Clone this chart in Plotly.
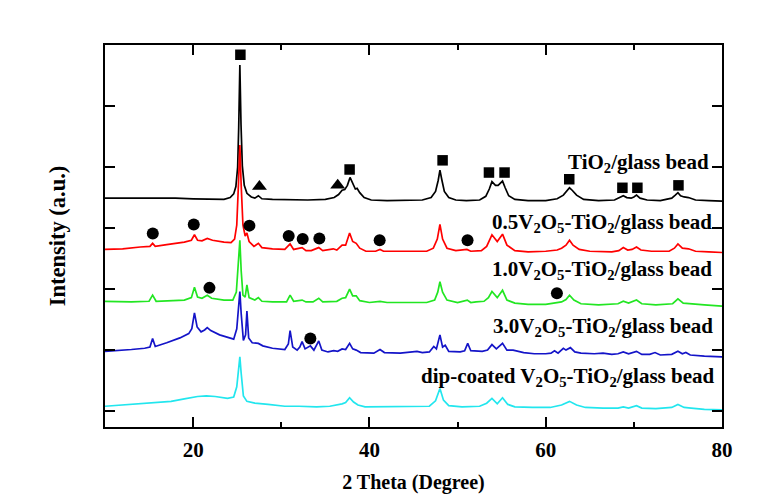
import plotly.graph_objects as go

# ---- data: (2theta, intensity offset units) ----
tio2 = [(10, 3.49), (12, 3.49), (14, 3.50), (16, 3.50), (18, 3.49), (20, 3.48), (22, 3.47),
        (23.5, 3.47), (24.2, 3.50), (24.6, 3.56), (24.85, 3.68), (25.05, 4.0), (25.17, 4.65),
        (25.3, 5.67), (25.43, 4.7), (25.58, 4.02), (25.8, 3.70), (26.1, 3.57), (26.6, 3.51),
        (27.0, 3.49), (27.4, 3.53), (27.8, 3.48), (29, 3.47), (31, 3.46), (33, 3.46), (35, 3.47),
        (36.0, 3.50), (36.5, 3.55), (36.9, 3.62), (37.2, 3.63), (37.5, 3.70), (37.8, 3.83),
        (38.1, 3.72), (38.4, 3.64), (38.6, 3.65), (38.9, 3.58), (39.4, 3.50), (40.2, 3.46),
        (42, 3.45), (44, 3.45), (46, 3.46), (47.0, 3.50), (47.5, 3.60), (47.8, 3.78),
        (48.0, 3.95), (48.2, 3.80), (48.5, 3.60), (49.0, 3.50), (49.8, 3.46), (51, 3.45),
        (52.5, 3.46), (53.2, 3.52), (53.6, 3.64), (53.9, 3.76), (54.3, 3.70), (54.6, 3.70),
        (54.9, 3.74), (55.1, 3.77), (55.4, 3.66), (55.8, 3.53), (56.5, 3.47), (58, 3.45),
        (60, 3.45), (61.3, 3.48), (62.0, 3.54), (62.4, 3.61), (62.7, 3.66), (63.0, 3.62),
        (63.5, 3.54), (64.3, 3.47), (66, 3.45), (67.8, 3.46), (68.5, 3.50), (68.8, 3.53),
        (69.2, 3.50), (69.7, 3.49), (70.0, 3.51), (70.3, 3.54), (70.7, 3.49), (71.5, 3.46),
        (73, 3.45), (74.3, 3.49), (74.7, 3.54), (75.0, 3.58), (75.3, 3.53), (75.7, 3.51),
        (76.2, 3.50), (77, 3.46), (78.5, 3.45), (80, 3.44)]

v05 = [(10, 2.65), (12, 2.66), (14, 2.69), (15.1, 2.70), (15.4, 2.75), (15.7, 2.70), (17, 2.73),
       (19.0, 2.77), (19.8, 2.80), (20.15, 2.89), (20.5, 2.80), (21.0, 2.79), (21.6, 2.83),
       (22.2, 2.80), (23.5, 2.77), (24.3, 2.76), (24.7, 2.82), (24.95, 3.05), (25.15, 3.75),
       (25.3, 4.36), (25.45, 3.7), (25.65, 3.05), (25.9, 2.87), (26.1, 2.92), (26.35, 2.78),
       (26.9, 2.70), (27.4, 2.75), (27.8, 2.68), (29, 2.66), (30.4, 2.65), (31.0, 2.74),
       (31.4, 2.65), (32.36, 2.68), (32.8, 2.63), (33.4, 2.63), (34.25, 2.68), (34.7, 2.63),
       (35.9, 2.66), (36.3, 2.64), (36.9, 2.72), (37.3, 2.72), (37.75, 2.92), (38.1, 2.78),
       (38.5, 2.75), (38.9, 2.67), (39.6, 2.62), (40.7, 2.62), (41.2, 2.65), (41.6, 2.62),
       (43.5, 2.62), (45.4, 2.63), (46.5, 2.62), (47.25, 2.67), (47.7, 2.82), (48.0, 3.06),
       (48.3, 2.82), (48.8, 2.67), (49.8, 2.63), (51.06, 2.65), (51.5, 2.62), (52.7, 2.63),
       (53.3, 2.70), (53.9, 2.89), (54.5, 2.78), (55.1, 2.90), (55.6, 2.72), (56.5, 2.63),
       (58, 2.61), (60, 2.62), (61.3, 2.64), (61.8, 2.67), (62.3, 2.72), (62.7, 2.80),
       (63.1, 2.72), (63.8, 2.65), (65, 2.62), (67.5, 2.61), (68.3, 2.63), (68.8, 2.68),
       (69.3, 2.64), (69.8, 2.65), (70.3, 2.69), (70.8, 2.64), (72, 2.62), (74, 2.62),
       (74.6, 2.67), (75.0, 2.74), (75.5, 2.67), (76.2, 2.66), (77, 2.62), (78.5, 2.61), (80, 2.60)]

v10 = [(10, 1.80), (13, 1.79), (15.0, 1.80), (15.4, 1.90), (15.8, 1.80), (17, 1.81), (19, 1.82),
       (19.8, 1.86), (20.15, 2.03), (20.5, 1.87), (21.0, 1.85), (21.6, 1.90), (22.1, 1.85),
       (23.5, 1.82), (24.5, 1.82), (24.9, 1.95), (25.1, 2.35), (25.3, 2.80), (25.45, 2.3),
       (25.65, 1.90), (25.9, 1.87), (26.1, 2.07), (26.35, 1.86), (27.0, 1.82), (27.4, 1.86),
       (27.8, 1.80), (29, 1.79), (30.6, 1.79), (31.0, 1.90), (31.4, 1.80), (32.36, 1.82),
       (32.8, 1.79), (33.6, 1.79), (34.25, 1.85), (34.7, 1.79), (35.9, 1.80), (36.3, 1.80),
       (36.9, 1.85), (37.3, 1.86), (37.75, 2.00), (38.1, 1.89), (38.5, 1.89), (38.9, 1.81),
       (40, 1.78), (41.2, 1.80), (42, 1.78), (44, 1.78), (45.4, 1.79), (46.5, 1.78),
       (47.4, 1.82), (47.75, 1.95), (48.0, 2.12), (48.3, 1.95), (48.8, 1.82), (50, 1.78),
       (51.1, 1.82), (51.5, 1.78), (52.1, 1.79), (53.0, 1.80), (53.5, 1.86), (53.9, 1.96),
       (54.5, 1.86), (55.1, 1.98), (55.6, 1.82), (56.5, 1.77), (58, 1.75), (60, 1.75),
       (61.8, 1.79), (62.3, 1.83), (62.7, 1.90), (63.2, 1.82), (64, 1.76), (66, 1.74),
       (68.2, 1.76), (68.8, 1.80), (69.4, 1.77), (70.3, 1.82), (70.9, 1.76), (72.5, 1.74),
       (74.4, 1.76), (75.0, 1.84), (75.6, 1.77), (76.3, 1.76), (78, 1.74), (80, 1.72)]

v30 = [(10, 0.98), (11.5, 0.99), (13, 1.01), (14.5, 1.03), (15.1, 1.05), (15.4, 1.19), (15.7, 1.06),
       (17, 1.12), (18.5, 1.20), (19.5, 1.27), (19.85, 1.35), (20.15, 1.61), (20.45, 1.38),
       (20.9, 1.30), (21.3, 1.33), (21.6, 1.37), (22.0, 1.32), (23, 1.25), (24.0, 1.20),
       (24.6, 1.18), (24.95, 1.35), (25.15, 1.70), (25.3, 1.96), (25.45, 1.60), (25.7, 1.16),
       (25.95, 1.25), (26.1, 1.64), (26.3, 1.20), (26.7, 1.12), (27.4, 1.11), (27.9, 1.07),
       (29, 1.03), (30.4, 1.01), (30.8, 1.10), (31.0, 1.32), (31.3, 1.05), (31.8, 1.00),
       (32.1, 1.05), (32.36, 1.14), (32.7, 1.02), (33.3, 1.07), (33.7, 1.00), (34.25, 1.15),
       (34.6, 1.00), (35.3, 0.97), (35.95, 0.99), (36.4, 0.98), (36.9, 1.02), (37.3, 1.01),
       (37.75, 1.11), (38.1, 1.02), (38.5, 1.00), (39, 0.96), (40.5, 0.95), (41.2, 1.01),
       (41.7, 0.96), (43.5, 0.95), (45.4, 0.98), (46, 0.96), (46.8, 0.97), (47.3, 1.06),
       (47.6, 1.02), (48.0, 1.25), (48.3, 1.05), (48.6, 1.08), (49.0, 0.98), (50.3, 0.97),
       (50.8, 0.99), (51.15, 1.11), (51.5, 0.99), (52.2, 0.98), (52.8, 0.98), (53.4, 1.00),
       (53.9, 1.09), (54.4, 1.02), (55.1, 1.11), (55.6, 1.00), (56.3, 1.00), (57.5, 0.96),
       (58.7, 0.94), (60, 0.94), (60.6, 0.95), (61.0, 0.99), (61.4, 0.95), (62.0, 1.03),
       (62.3, 1.00), (62.8, 1.04), (63.3, 0.97), (64, 0.95), (65.5, 0.94), (66.5, 0.95),
       (67.5, 0.93), (68.2, 0.94), (68.8, 0.97), (69.4, 0.94), (70.3, 0.98), (70.9, 0.93),
       (71.8, 0.93), (72.4, 0.96), (73.0, 0.92), (74.3, 0.93), (75.0, 0.98), (75.5, 0.94),
       (75.9, 0.96), (76.4, 0.92), (78, 0.90), (80, 0.89)]

dip = [(10, 0.08), (12, 0.10), (14, 0.12), (16, 0.14), (17.5, 0.16), (19, 0.20), (20.5, 0.24),
       (21.5, 0.25), (22.5, 0.24), (23.9, 0.21), (24.6, 0.23), (24.95, 0.40), (25.15, 0.70),
       (25.3, 0.89), (25.45, 0.62), (25.7, 0.25), (26.1, 0.16), (27, 0.13), (28.5, 0.11),
       (30.4, 0.08), (32, 0.08), (34, 0.07), (35.5, 0.08), (36.4, 0.10), (36.9, 0.12),
       (37.3, 0.14), (37.75, 0.22), (38.2, 0.15), (38.7, 0.10), (39.5, 0.07), (42, 0.07),
       (45, 0.07), (46.8, 0.08), (47.5, 0.17), (48.0, 0.37), (48.4, 0.18), (49.0, 0.09),
       (50.5, 0.07), (52.5, 0.08), (53.3, 0.13), (53.9, 0.21), (54.5, 0.12), (55.1, 0.22),
       (55.7, 0.11), (56.5, 0.07), (58.5, 0.06), (60.5, 0.06), (61.8, 0.10), (62.7, 0.16),
       (63.5, 0.10), (64.5, 0.06), (66.5, 0.05), (68.2, 0.05), (68.8, 0.07), (69.4, 0.05),
       (70.3, 0.09), (70.9, 0.05), (72.5, 0.04), (74.3, 0.06), (75.0, 0.11), (75.7, 0.06),
       (76.5, 0.05), (78, 0.03), (80, 0.02)]

# phase markers
square_x = [25.36, 37.75, 48.3, 53.56, 55.33, 62.67, 68.7, 70.4, 75.06]
square_y = [5.84, 3.96, 4.11, 3.91, 3.91, 3.80, 3.66, 3.66, 3.70]
triangle_x = [27.52, 36.4]
triangle_y = [3.68, 3.70]
circle_x = [15.42, 20.07, 26.38, 30.84, 32.43, 34.32, 41.16, 51.13, 21.85, 61.27, 33.3]
circle_y = [2.91, 3.06, 3.04, 2.87, 2.82, 2.83, 2.80, 2.80, 2.02, 1.93, 1.19]

labels = ["TiO<sub>2</sub>/glass bead",
          "0.5V<sub>2</sub>O<sub>5</sub>-TiO<sub>2</sub>/glass bead",
          "1.0V<sub>2</sub>O<sub>5</sub>-TiO<sub>2</sub>/glass bead",
          "3.0V<sub>2</sub>O<sub>5</sub>-TiO<sub>2</sub>/glass bead",
          "dip-coated V<sub>2</sub>O<sub>5</sub>-TiO<sub>2</sub>/glass bead"]
label_x = [78.7, 79.1, 79.1, 79.25, 79.35]
label_y = [4.07, 3.08, 2.31, 1.38, 0.56]

x_ticks = [20, 40, 60, 80]
y_ticks = [0, 1, 2, 3, 4, 5, 6]

series = [tio2, v05, v10, v30, dip]
colors = ["#000000", "#ff0000", "#22e622", "#1414c8", "#22e6ee"]

FONT = "Liberation Serif"

fig = go.Figure()
for pts, col in zip(series, colors):
    xs = [p[0] for p in pts]
    ys = [p[1] for p in pts]
    fig.add_trace(go.Scatter(x=xs, y=ys, mode="lines",
                             line=dict(color=col, width=1.7), showlegend=False,
                             hoverinfo="skip"))

fig.add_trace(go.Scatter(x=square_x, y=square_y, mode="markers", showlegend=False,
                         marker=dict(symbol="square", size=10.5, color="black")))
fig.add_trace(go.Scatter(x=triangle_x, y=triangle_y, mode="markers", showlegend=False,
                         marker=dict(symbol="triangle-up", size=13, color="black")))
fig.add_trace(go.Scatter(x=circle_x, y=circle_y, mode="markers", showlegend=False,
                         marker=dict(symbol="circle", size=12, color="black")))

for txt, lx, ly in zip(labels, label_x, label_y):
    fig.add_annotation(x=lx, y=ly, xref="x", yref="y", text="<b>" + txt + "</b>",
                       showarrow=False, xanchor="right", yanchor="middle",
                       font=dict(family=FONT, size=21, color="black"))

axis_common = dict(showline=True, linecolor="black", linewidth=2, mirror="ticks",
                   ticks="inside", tickcolor="black", tickwidth=2, ticklen=10,
                   showgrid=False, zeroline=False)

fig.update_xaxes(range=[10, 80], tickmode="array", tickvals=x_ticks,
                 tickfont=dict(family=FONT, size=21, color="black", weight="bold"),
                 ticklabelstandoff=3,
                 minor=dict(ticks="inside", ticklen=5, tickwidth=2, tickcolor="black",
                            dtick=10, tick0=0, showgrid=False),
                 title=dict(text="<b>2 Theta (Degree)</b>", standoff=14,
                            font=dict(family=FONT, size=20, color="black")),
                 **axis_common)
fig.update_yaxes(range=[-0.26, 6.0], tickmode="array", tickvals=y_ticks,
                 showticklabels=False,
                 title=dict(text="<b>Intensity (a.u.)</b>", standoff=31,
                            font=dict(family=FONT, size=22.5, color="black")),
                 **axis_common)

# page body adds an 8 px offset, so margins are shifted to compensate
fig.update_layout(width=777, height=501, paper_bgcolor="white", plot_bgcolor="white",
                  margin=dict(l=97, r=63, t=37, b=82),
                  font=dict(family=FONT, color="black"))

fig.write_html("out.html")
